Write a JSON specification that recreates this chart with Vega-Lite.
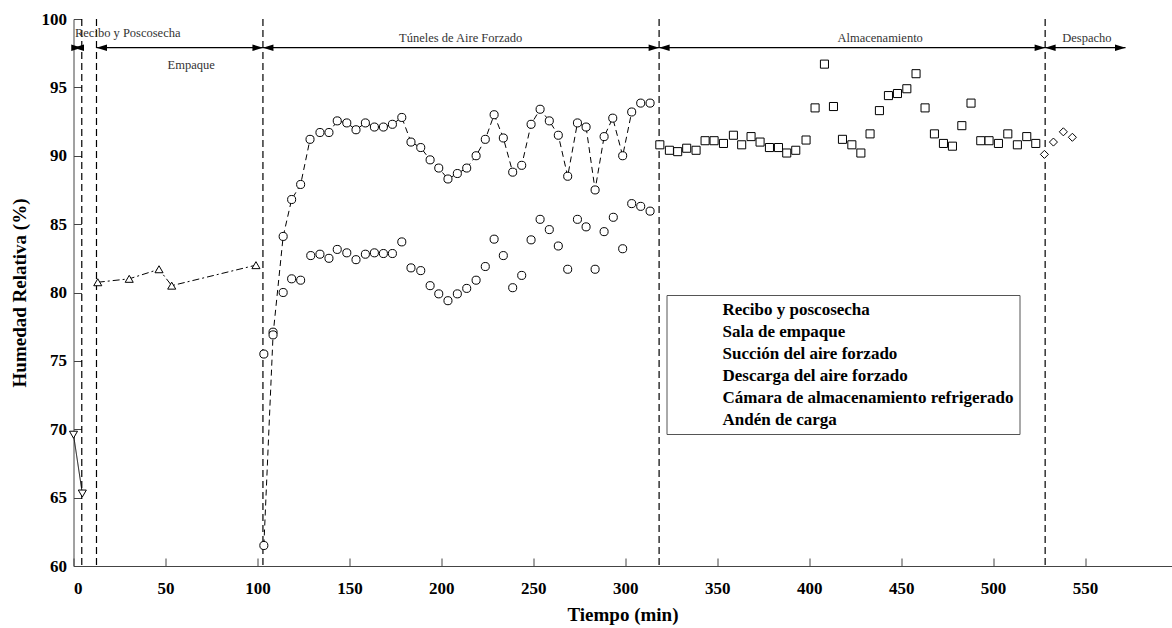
{
  "$schema": "https://vega.github.io/schema/vega-lite/v6.json",
  "width": 1098,
  "height": 547,
  "autosize": {"type": "none"},
  "padding": {"left": 73.5, "top": 19, "right": 0.5, "bottom": 62},
  "background": "white",
  "config": {
    "view": {"stroke": null},
    "font": "Liberation Serif",
    "axis": {
      "grid": false,
      "domainColor": "#444",
      "tickColor": "#444",
      "labelFont": "Liberation Serif",
      "labelFontWeight": "bold",
      "labelFontSize": 17,
      "labelColor": "black",
      "titleFont": "Liberation Serif",
      "titleFontWeight": "bold",
      "titleFontSize": 19,
      "titleColor": "black"
    }
  },
  "data": {
    "values": [
      {"s": "Recibo y poscosecha", "t": 0, "hr": 69.6},
      {"s": "Recibo y poscosecha", "t": 4.8, "hr": 65.3},
      {"s": "Sala de empaque", "t": 13.2, "hr": 80.75},
      {"s": "Sala de empaque", "t": 30.3, "hr": 81.0},
      {"s": "Sala de empaque", "t": 46.5, "hr": 81.7},
      {"s": "Sala de empaque", "t": 53.4, "hr": 80.5},
      {"s": "Sala de empaque", "t": 99.2, "hr": 82.0},
      {"s": "Succión del aire forzado", "t": 103.5, "hr": 75.5},
      {"s": "Succión del aire forzado", "t": 108.5, "hr": 77.1},
      {"s": "Succión del aire forzado", "t": 114, "hr": 80.0},
      {"s": "Succión del aire forzado", "t": 118.6, "hr": 81.0},
      {"s": "Succión del aire forzado", "t": 123.5, "hr": 80.9},
      {"s": "Succión del aire forzado", "t": 129, "hr": 82.7},
      {"s": "Succión del aire forzado", "t": 134, "hr": 82.8},
      {"s": "Succión del aire forzado", "t": 138.9, "hr": 82.5},
      {"s": "Succión del aire forzado", "t": 143.4, "hr": 83.15},
      {"s": "Succión del aire forzado", "t": 148.6, "hr": 82.9},
      {"s": "Succión del aire forzado", "t": 153.6, "hr": 82.4},
      {"s": "Succión del aire forzado", "t": 158.7, "hr": 82.8},
      {"s": "Succión del aire forzado", "t": 163.6, "hr": 82.9},
      {"s": "Succión del aire forzado", "t": 168.5, "hr": 82.85},
      {"s": "Succión del aire forzado", "t": 173.4, "hr": 82.85},
      {"s": "Succión del aire forzado", "t": 178.5, "hr": 83.7},
      {"s": "Succión del aire forzado", "t": 183.5, "hr": 81.8},
      {"s": "Succión del aire forzado", "t": 188.8, "hr": 81.6},
      {"s": "Succión del aire forzado", "t": 193.9, "hr": 80.5},
      {"s": "Succión del aire forzado", "t": 198.6, "hr": 79.9},
      {"s": "Succión del aire forzado", "t": 203.6, "hr": 79.4},
      {"s": "Succión del aire forzado", "t": 208.7, "hr": 79.9},
      {"s": "Succión del aire forzado", "t": 213.8, "hr": 80.3},
      {"s": "Succión del aire forzado", "t": 218.9, "hr": 80.9},
      {"s": "Succión del aire forzado", "t": 223.9, "hr": 81.9},
      {"s": "Succión del aire forzado", "t": 228.7, "hr": 83.9},
      {"s": "Succión del aire forzado", "t": 233.7, "hr": 82.7},
      {"s": "Succión del aire forzado", "t": 238.8, "hr": 80.35},
      {"s": "Succión del aire forzado", "t": 243.7, "hr": 81.25},
      {"s": "Succión del aire forzado", "t": 248.8, "hr": 83.85},
      {"s": "Succión del aire forzado", "t": 253.7, "hr": 85.35},
      {"s": "Succión del aire forzado", "t": 258.7, "hr": 84.6},
      {"s": "Succión del aire forzado", "t": 263.6, "hr": 83.4},
      {"s": "Succión del aire forzado", "t": 268.7, "hr": 81.7},
      {"s": "Succión del aire forzado", "t": 274, "hr": 85.35},
      {"s": "Succión del aire forzado", "t": 278.7, "hr": 84.8},
      {"s": "Succión del aire forzado", "t": 283.6, "hr": 81.7},
      {"s": "Succión del aire forzado", "t": 288.5, "hr": 84.45},
      {"s": "Succión del aire forzado", "t": 293.5, "hr": 85.5},
      {"s": "Succión del aire forzado", "t": 298.6, "hr": 83.2},
      {"s": "Succión del aire forzado", "t": 303.5, "hr": 86.5},
      {"s": "Succión del aire forzado", "t": 308.4, "hr": 86.3},
      {"s": "Succión del aire forzado", "t": 313.5, "hr": 85.95},
      {"s": "Descarga del aire forzado", "t": 103.5, "hr": 61.5},
      {"s": "Descarga del aire forzado", "t": 108.5, "hr": 76.9},
      {"s": "Descarga del aire forzado", "t": 114, "hr": 84.1},
      {"s": "Descarga del aire forzado", "t": 118.6, "hr": 86.8},
      {"s": "Descarga del aire forzado", "t": 123.5, "hr": 87.9},
      {"s": "Descarga del aire forzado", "t": 128.6, "hr": 91.2},
      {"s": "Descarga del aire forzado", "t": 134, "hr": 91.7},
      {"s": "Descarga del aire forzado", "t": 138.9, "hr": 91.7},
      {"s": "Descarga del aire forzado", "t": 143.4, "hr": 92.55},
      {"s": "Descarga del aire forzado", "t": 148.6, "hr": 92.4},
      {"s": "Descarga del aire forzado", "t": 153.6, "hr": 91.9},
      {"s": "Descarga del aire forzado", "t": 158.7, "hr": 92.4},
      {"s": "Descarga del aire forzado", "t": 163.6, "hr": 92.1},
      {"s": "Descarga del aire forzado", "t": 168.5, "hr": 92.1},
      {"s": "Descarga del aire forzado", "t": 173.4, "hr": 92.3},
      {"s": "Descarga del aire forzado", "t": 178.5, "hr": 92.8},
      {"s": "Descarga del aire forzado", "t": 183.5, "hr": 91.0},
      {"s": "Descarga del aire forzado", "t": 188.8, "hr": 90.6},
      {"s": "Descarga del aire forzado", "t": 193.9, "hr": 89.7},
      {"s": "Descarga del aire forzado", "t": 198.6, "hr": 89.1},
      {"s": "Descarga del aire forzado", "t": 203.6, "hr": 88.3},
      {"s": "Descarga del aire forzado", "t": 208.7, "hr": 88.7},
      {"s": "Descarga del aire forzado", "t": 213.8, "hr": 89.1},
      {"s": "Descarga del aire forzado", "t": 218.9, "hr": 90.0},
      {"s": "Descarga del aire forzado", "t": 223.9, "hr": 91.2},
      {"s": "Descarga del aire forzado", "t": 228.7, "hr": 93.0},
      {"s": "Descarga del aire forzado", "t": 233.7, "hr": 91.3},
      {"s": "Descarga del aire forzado", "t": 238.8, "hr": 88.8},
      {"s": "Descarga del aire forzado", "t": 243.7, "hr": 89.3},
      {"s": "Descarga del aire forzado", "t": 248.8, "hr": 92.3},
      {"s": "Descarga del aire forzado", "t": 253.7, "hr": 93.4},
      {"s": "Descarga del aire forzado", "t": 258.7, "hr": 92.55},
      {"s": "Descarga del aire forzado", "t": 263.6, "hr": 91.5},
      {"s": "Descarga del aire forzado", "t": 268.7, "hr": 88.5},
      {"s": "Descarga del aire forzado", "t": 274, "hr": 92.4},
      {"s": "Descarga del aire forzado", "t": 278.7, "hr": 92.1},
      {"s": "Descarga del aire forzado", "t": 283.6, "hr": 87.5},
      {"s": "Descarga del aire forzado", "t": 288.5, "hr": 91.4},
      {"s": "Descarga del aire forzado", "t": 293.2, "hr": 92.75},
      {"s": "Descarga del aire forzado", "t": 298.6, "hr": 90.0},
      {"s": "Descarga del aire forzado", "t": 303.5, "hr": 93.2},
      {"s": "Descarga del aire forzado", "t": 308.4, "hr": 93.85},
      {"s": "Descarga del aire forzado", "t": 313.5, "hr": 93.85},
      {"s": "Cámara de almacenamiento refrigerado", "t": 318.8, "hr": 90.8},
      {"s": "Cámara de almacenamiento refrigerado", "t": 324, "hr": 90.4},
      {"s": "Cámara de almacenamiento refrigerado", "t": 328.5, "hr": 90.3},
      {"s": "Cámara de almacenamiento refrigerado", "t": 333.4, "hr": 90.55},
      {"s": "Cámara de almacenamiento refrigerado", "t": 338.5, "hr": 90.4},
      {"s": "Cámara de almacenamiento refrigerado", "t": 343.4, "hr": 91.1},
      {"s": "Cámara de almacenamiento refrigerado", "t": 348.3, "hr": 91.1},
      {"s": "Cámara de almacenamiento refrigerado", "t": 353.4, "hr": 90.9},
      {"s": "Cámara de almacenamiento refrigerado", "t": 358.8, "hr": 91.5},
      {"s": "Cámara de almacenamiento refrigerado", "t": 363.3, "hr": 90.8},
      {"s": "Cámara de almacenamiento refrigerado", "t": 368.4, "hr": 91.4},
      {"s": "Cámara de almacenamiento refrigerado", "t": 373.3, "hr": 91.0},
      {"s": "Cámara de almacenamiento refrigerado", "t": 378.4, "hr": 90.6},
      {"s": "Cámara de almacenamiento refrigerado", "t": 383.3, "hr": 90.6},
      {"s": "Cámara de almacenamiento refrigerado", "t": 387.8, "hr": 90.2},
      {"s": "Cámara de almacenamiento refrigerado", "t": 392.7, "hr": 90.4},
      {"s": "Cámara de almacenamiento refrigerado", "t": 398.3, "hr": 91.15},
      {"s": "Cámara de almacenamiento refrigerado", "t": 403.2, "hr": 93.5},
      {"s": "Cámara de almacenamiento refrigerado", "t": 408.3, "hr": 96.7},
      {"s": "Cámara de almacenamiento refrigerado", "t": 413.2, "hr": 93.6},
      {"s": "Cámara de almacenamiento refrigerado", "t": 418.1, "hr": 91.2},
      {"s": "Cámara de almacenamiento refrigerado", "t": 423.2, "hr": 90.8},
      {"s": "Cámara de almacenamiento refrigerado", "t": 428.1, "hr": 90.2},
      {"s": "Cámara de almacenamiento refrigerado", "t": 433.1, "hr": 91.6},
      {"s": "Cámara de almacenamiento refrigerado", "t": 438.2, "hr": 93.3},
      {"s": "Cámara de almacenamiento refrigerado", "t": 443.1, "hr": 94.4},
      {"s": "Cámara de almacenamiento refrigerado", "t": 448, "hr": 94.55},
      {"s": "Cámara de almacenamiento refrigerado", "t": 453.1, "hr": 94.9},
      {"s": "Cámara de almacenamiento refrigerado", "t": 458.1, "hr": 96.0},
      {"s": "Cámara de almacenamiento refrigerado", "t": 463, "hr": 93.5},
      {"s": "Cámara de almacenamiento refrigerado", "t": 468.1, "hr": 91.6},
      {"s": "Cámara de almacenamiento refrigerado", "t": 473, "hr": 90.9},
      {"s": "Cámara de almacenamiento refrigerado", "t": 477.9, "hr": 90.7},
      {"s": "Cámara de almacenamiento refrigerado", "t": 483, "hr": 92.2},
      {"s": "Cámara de almacenamiento refrigerado", "t": 488, "hr": 93.85},
      {"s": "Cámara de almacenamiento refrigerado", "t": 493.3, "hr": 91.1},
      {"s": "Cámara de almacenamiento refrigerado", "t": 497.8, "hr": 91.1},
      {"s": "Cámara de almacenamiento refrigerado", "t": 502.9, "hr": 90.9},
      {"s": "Cámara de almacenamiento refrigerado", "t": 508, "hr": 91.6},
      {"s": "Cámara de almacenamiento refrigerado", "t": 513.2, "hr": 90.8},
      {"s": "Cámara de almacenamiento refrigerado", "t": 518.3, "hr": 91.4},
      {"s": "Cámara de almacenamiento refrigerado", "t": 523.2, "hr": 90.9},
      {"s": "Andén de carga", "t": 527.9, "hr": 90.1},
      {"s": "Andén de carga", "t": 532.8, "hr": 91.0},
      {"s": "Andén de carga", "t": 538.2, "hr": 91.75},
      {"s": "Andén de carga", "t": 543.1, "hr": 91.35}
    ]
  },
  "layer": [
    {
      "data": {"values": [{"t": 4.5}, {"t": 12.5}, {"t": 103}, {"t": 318.4}, {"t": 528.3}]},
      "mark": {"type": "rule", "color": "black", "strokeWidth": 1.2, "strokeDash": [7, 4]},
      "encoding": {
        "x": {
          "field": "t", "type": "quantitative",
          "scale": {"domain": [0, 597], "nice": false, "zero": false},
          "axis": {
            "title": "Tiempo (min)",
            "values": [0,50,100,150,200,250,300,350,400,450,500,550],
            "tickSize": -8,
            "labelPadding": 22,
            "titlePadding": 9
          }
        }
      }
    },
    {
      "data": {"values": [
        {"etapa": "Recibo y Poscosecha", "t": 0, "t2": 4.5},
        {"etapa": "Empaque", "t": 12.5, "t2": 103},
        {"etapa": "Túneles de Aire Forzado", "t": 103, "t2": 318.4},
        {"etapa": "Almacenamiento", "t": 318.4, "t2": 528.3},
        {"etapa": "Despacho", "t": 528.3, "t2": 572}
      ]},
      "layer": [
        {
          "mark": {"type": "rule", "color": "black", "strokeWidth": 1.3},
          "encoding": {
            "x": {"field": "t", "type": "quantitative", "axis": {"title": "Tiempo (min)"}},
            "x2": {"field": "t2"},
            "y": {"datum": 97.9, "type": "quantitative", "axis": {"title": "Humedad Relativa (%)"}}
          }
        },
        {
          "mark": {"type": "point", "shape": "M0,0L3.5,-1.1L3.5,1.1Z", "size": 36, "filled": true, "color": "black", "opacity": 1},
          "encoding": {
            "x": {"field": "t", "type": "quantitative", "axis": {"title": "Tiempo (min)"}},
            "y": {"datum": 97.9, "type": "quantitative", "axis": {"title": "Humedad Relativa (%)"}}
          }
        },
        {
          "mark": {"type": "point", "shape": "M0,0L-3.5,-1.1L-3.5,1.1Z", "size": 36, "filled": true, "color": "black", "opacity": 1},
          "encoding": {
            "x": {"field": "t2", "type": "quantitative", "axis": {"title": "Tiempo (min)"}},
            "y": {"datum": 97.9, "type": "quantitative", "axis": {"title": "Humedad Relativa (%)"}}
          }
        }
      ]
    },
    {
      "data": {"values": [{"texto": "Recibo y Poscosecha", "t": 0.8, "hr": 99.0}]},
      "mark": {"type": "text", "align": "left", "baseline": "middle", "font": "Liberation Serif", "fontSize": 12.5, "color": "#333"},
      "encoding": {
        "x": {"field": "t", "type": "quantitative", "axis": {"title": "Tiempo (min)"}},
        "y": {"field": "hr", "type": "quantitative", "axis": {"title": "Humedad Relativa (%)"}},
        "text": {"field": "texto", "type": "nominal"}
      }
    },
    {
      "data": {"values": [
        {"texto": "Empaque", "t": 64, "hr": 96.6},
        {"texto": "Túneles de Aire Forzado", "t": 210.5, "hr": 98.6},
        {"texto": "Almacenamiento", "t": 438.6, "hr": 98.6},
        {"texto": "Despacho", "t": 551, "hr": 98.6}
      ]},
      "mark": {"type": "text", "align": "center", "baseline": "middle", "font": "Liberation Serif", "fontSize": 12.5, "color": "#333"},
      "encoding": {
        "x": {"field": "t", "type": "quantitative", "axis": {"title": "Tiempo (min)"}},
        "y": {"field": "hr", "type": "quantitative", "axis": {"title": "Humedad Relativa (%)"}},
        "text": {"field": "texto", "type": "nominal"}
      }
    },
    {
      "transform": [{"filter": "datum.s === 'Recibo y poscosecha' || datum.s === 'Sala de empaque' || datum.s === 'Descarga del aire forzado'"}],
      "mark": {"type": "line", "color": "black", "strokeWidth": 1},
      "encoding": {
        "x": {"field": "t", "type": "quantitative", "axis": {"title": "Tiempo (min)"}},
        "y": {
          "field": "hr", "type": "quantitative",
          "scale": {"domain": [60, 100], "nice": false, "zero": false},
          "axis": {
            "title": "Humedad Relativa (%)",
            "values": [60,65,70,75,80,85,90,95,100],
            "tickSize": -8,
            "labelPadding": 15,
            "titlePadding": 12
          }
        },
        "detail": {"field": "s", "type": "nominal"},
        "strokeDash": {
          "field": "s", "type": "nominal", "legend": null,
          "scale": {"domain": ["Recibo y poscosecha", "Sala de empaque", "Descarga del aire forzado"], "range": [[1, 0], [7, 3, 2, 3], [6, 4]]}
        }
      }
    },
    {
      "mark": {"type": "point", "filled": true, "fill": "white", "stroke": "black", "strokeWidth": 1, "size": 65, "opacity": 1},
      "encoding": {
        "x": {"field": "t", "type": "quantitative", "axis": {"title": "Tiempo (min)"}},
        "y": {"field": "hr", "type": "quantitative", "axis": {"title": "Humedad Relativa (%)"}},
        "shape": {
          "field": "s", "type": "nominal", "legend": null,
          "scale": {
            "domain": ["Recibo y poscosecha", "Sala de empaque", "Succión del aire forzado", "Descarga del aire forzado", "Cámara de almacenamiento refrigerado", "Andén de carga"],
            "range": ["triangle-down", "triangle-up", "circle", "circle", "square", "diamond"]
          }
        }
      }
    },
    {
      "transform": [{"filter": "false"}],
      "mark": {"type": "point", "filled": true, "fill": "white", "stroke": "black", "strokeWidth": 1, "size": 100, "opacity": 1},
      "encoding": {
        "x": {"field": "t", "type": "quantitative", "axis": {"title": "Tiempo (min)"}},
        "y": {"field": "hr", "type": "quantitative", "axis": {"title": "Humedad Relativa (%)"}},
        "shape": {
          "field": "s", "type": "nominal",
          "scale": {
            "domain": ["Recibo y poscosecha", "Sala de empaque", "Succión del aire forzado", "Descarga del aire forzado", "Cámara de almacenamiento refrigerado", "Andén de carga"],
            "range": [
              "M-4.4,0L4.4,0M-1,-0.7L1,-0.7L0,0.9Z",
              "M-4.4,0L-3.4,0M-2.5,0L-2.1,0M2.1,0L2.5,0M3.4,0L4.4,0M-1,0.7L1,0.7L0,-0.9Z",
              "M-0.8,0A0.8,0.8,0,1,1,0.8,0A0.8,0.8,0,1,1,-0.8,0Z",
              "M-4.4,0L-2.6,0M-0.8,0A0.8,0.8,0,1,1,0.8,0A0.8,0.8,0,1,1,-0.8,0ZM-0.8,0L0.8,0M2.6,0L4.4,0",
              "M-0.7,-0.7L0.7,-0.7L0.7,0.7L-0.7,0.7Z",
              "M0,-0.9L0.8,0L0,0.9L-0.8,0Z"
            ]
          },
          "legend": {
            "title": null,
            "orient": "none",
            "legendX": 593,
            "legendY": 276,
            "strokeColor": "#555",
            "fillColor": "white",
            "padding": 6,
            "labelFont": "Liberation Serif",
            "labelFontWeight": "bold",
            "labelFontSize": 17,
            "labelColor": "black",
            "labelLimit": 400,
            "symbolSize": 100,
            "symbolStrokeWidth": 1,
            "symbolStrokeColor": "black",
            "symbolFillColor": "white",
            "symbolOpacity": 1,
            "symbolOffset": 17,
            "labelOffset": 16,
            "rowPadding": 4
          }
        }
      }
    }
  ],
  "resolve": {"scale": {"shape": "independent"}}
}
